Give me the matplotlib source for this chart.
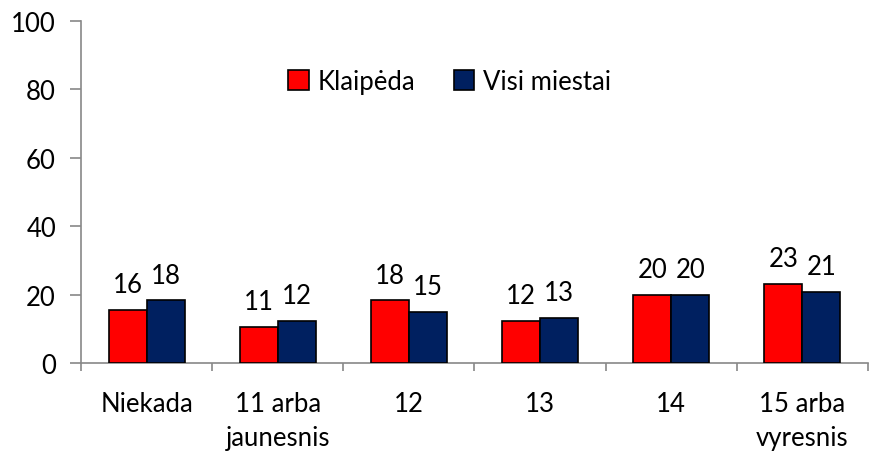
import matplotlib.pyplot as plt
import numpy as np

plt.rcParams['font.family'] = ['Lato', 'DejaVu Sans']

categories = ['Niekada', '11 arba\njaunesnis', '12', '13', '14', '15 arba\nvyresnis']
klaipeda = [15.6, 10.6, 18.4, 12.3, 19.9, 23.1]
visi = [18.4, 12.4, 15.0, 13.2, 19.9, 20.8]
klaipeda_lbl = ['16', '11', '18', '12', '20', '23']
visi_lbl = ['18', '12', '15', '13', '20', '21']

FS = 18.5

fig = plt.figure(figsize=(8.7, 4.52), dpi=100)
ax = fig.add_axes([0.0931, 0.1947, 0.9046, 0.7566])

x = np.arange(len(categories))
w = 0.29
ax.bar(x - w / 2, klaipeda, w, color='#ff0000', edgecolor='black', linewidth=1.2,
       label='Klaipėda', zorder=3)
ax.bar(x + w / 2, visi, w, color='#002060', edgecolor='black', linewidth=1.2,
       label='Visi miestai', zorder=3)

for xi, v, t in zip(x - w / 2, klaipeda, klaipeda_lbl):
    ax.annotate(t, (xi, v), xytext=(0, 9), textcoords='offset points',
                ha='center', va='bottom', fontsize=FS)
for xi, v, t in zip(x + w / 2, visi, visi_lbl):
    ax.annotate(t, (xi, v), xytext=(0, 9), textcoords='offset points',
                ha='center', va='bottom', fontsize=FS)

ax.set_xlim(-0.5, len(categories) - 0.5)
ax.set_ylim(0, 100)
ax.set_yticks(range(0, 101, 20))
ax.set_xticks(x)
ax.set_xticklabels(categories, linespacing=1.45)
ax.set_xticks(np.arange(-0.5, len(categories), 1), minor=True)

ax.tick_params(axis='x', which='major', length=0, pad=20, labelsize=FS)
ax.tick_params(axis='x', which='minor', length=6, color='#888888', width=1.2)
ax.tick_params(axis='y', length=8, color='#888888', width=1.2, pad=10, labelsize=FS)

for s in ['top', 'right']:
    ax.spines[s].set_visible(False)
for s in ['left', 'bottom']:
    ax.spines[s].set_color('#888888')
    ax.spines[s].set_linewidth(1.2)

ax.legend(loc='center', bbox_to_anchor=(0.517, 0.818), bbox_transform=fig.transFigure,
          ncol=2, frameon=False, fontsize=FS, handlelength=0.8, handleheight=0.8,
          handletextpad=0.35, columnspacing=1.5)

fig.savefig('out.png', dpi=100)
